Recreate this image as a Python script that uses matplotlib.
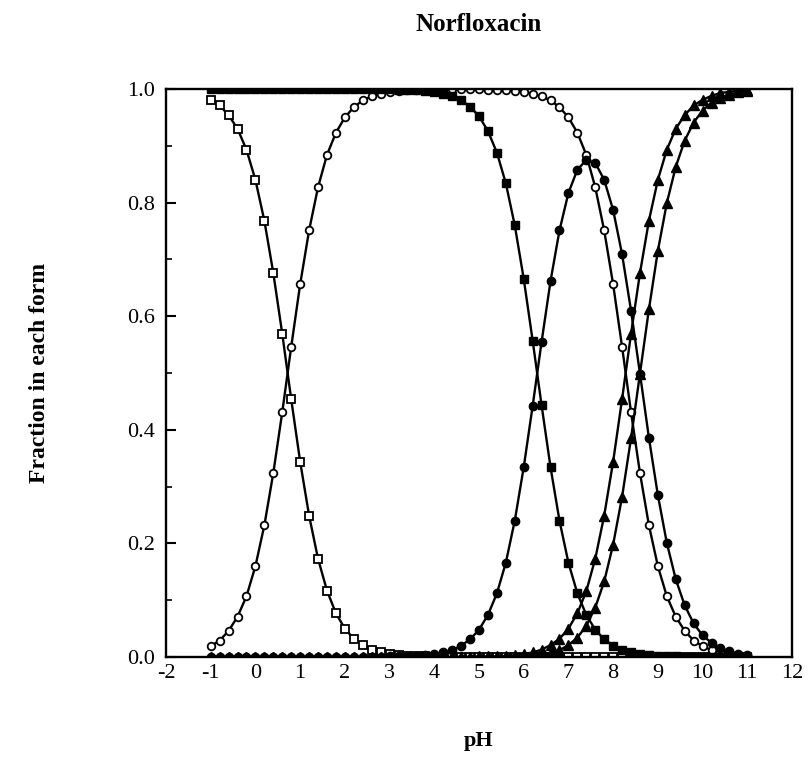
import matplotlib
matplotlib.use("Agg")
import matplotlib.pyplot as plt
from matplotlib.ticker import MultipleLocator, FixedLocator

plt.rcParams['font.family'] = ['Liberation Serif', 'DejaVu Serif']
plt.rcParams['axes.unicode_minus'] = False

title = "Norfloxacin"
xlabel = "pH"
ylabel = "Fraction in each form"
xticks = [-2, -1, 0, 1, 2, 3, 4, 5, 6, 7, 8, 9, 10, 11, 12]
yticks = [0.0, 0.2, 0.4, 0.6, 0.8, 1.0]

pH = [-1.0, -0.8, -0.6, -0.4, -0.2, 0.0, 0.2, 0.4, 0.6, 0.8,
      1.0, 1.2, 1.4, 1.6, 1.8, 2.0, 2.2, 2.4, 2.6, 2.8,
      3.0, 3.2, 3.4, 3.6, 3.8, 4.0, 4.2, 4.4, 4.6, 4.8,
      5.0, 5.2, 5.4, 5.6, 5.8, 6.0, 6.2, 6.4, 6.6, 6.8,
      7.0, 7.2, 7.4, 7.6, 7.8, 8.0, 8.2, 8.4, 8.6, 8.8,
      9.0, 9.2, 9.4, 9.6, 9.8, 10.0, 10.2, 10.4, 10.6, 10.8, 11.0]

# open squares
open_squares = [0.981, 0.971, 0.954, 0.930, 0.893, 0.840, 0.768, 0.676, 0.569, 0.454,
                0.344, 0.249, 0.173, 0.117, 0.077, 0.050, 0.032, 0.021, 0.013, 0.008,
                0.005, 0.003, 0.002, 0.001, 0.001, 0.000, 0.000, 0.000, 0.000, 0.000,
                0.000, 0.000, 0.000, 0.000, 0.000, 0.000, 0.000, 0.000, 0.000, 0.000,
                0.000, 0.000, 0.000, 0.000, 0.000, 0.000, 0.000, 0.000, 0.000, 0.000,
                0.000, 0.000, 0.000, 0.000, 0.000, 0.000, 0.000, 0.000, 0.000, 0.000, 0.000]
# open circles
open_circles = [0.019, 0.029, 0.046, 0.071, 0.107, 0.160, 0.232, 0.324, 0.431, 0.546,
                0.656, 0.751, 0.827, 0.884, 0.923, 0.950, 0.968, 0.980, 0.987, 0.992,
                0.995, 0.997, 0.998, 0.999, 0.999, 1.000, 1.000, 1.000, 1.000, 1.000,
                1.000, 0.999, 0.999, 0.998, 0.997, 0.995, 0.992, 0.987, 0.980, 0.968,
                0.950, 0.923, 0.884, 0.827, 0.751, 0.656, 0.546, 0.431, 0.324, 0.232,
                0.160, 0.107, 0.071, 0.046, 0.029, 0.019, 0.012, 0.008, 0.005, 0.003, 0.002]
# filled triangles (left curve)
triangles_a = [0.000, 0.000, 0.000, 0.000, 0.000, 0.000, 0.000, 0.000, 0.000, 0.000,
               0.000, 0.000, 0.000, 0.000, 0.000, 0.000, 0.000, 0.000, 0.000, 0.000,
               0.000, 0.000, 0.000, 0.000, 0.000, 0.000, 0.000, 0.000, 0.000, 0.000,
               0.001, 0.001, 0.001, 0.002, 0.003, 0.005, 0.008, 0.013, 0.021, 0.032,
               0.050, 0.077, 0.116, 0.173, 0.249, 0.344, 0.454, 0.569, 0.676, 0.768,
               0.840, 0.893, 0.930, 0.954, 0.971, 0.981, 0.988, 0.993, 0.995, 0.997, 0.998]
# filled squares
filled_squares = [1.000, 1.000, 1.000, 1.000, 1.000, 1.000, 1.000, 1.000, 1.000, 1.000,
                  1.000, 1.000, 1.000, 1.000, 1.000, 1.000, 1.000, 1.000, 1.000, 1.000,
                  1.000, 0.999, 0.999, 0.998, 0.997, 0.995, 0.992, 0.988, 0.980, 0.969,
                  0.952, 0.926, 0.888, 0.834, 0.760, 0.666, 0.557, 0.443, 0.334, 0.240,
                  0.166, 0.112, 0.074, 0.048, 0.031, 0.020, 0.012, 0.008, 0.005, 0.003,
                  0.002, 0.001, 0.001, 0.000, 0.000, 0.000, 0.000, 0.000, 0.000, 0.000, 0.000]
# filled circles
filled_circles = [0.000, 0.000, 0.000, 0.000, 0.000, 0.000, 0.000, 0.000, 0.000, 0.000,
                  0.000, 0.000, 0.000, 0.000, 0.000, 0.000, 0.000, 0.000, 0.000, 0.000,
                  0.001, 0.001, 0.001, 0.002, 0.003, 0.005, 0.008, 0.012, 0.020, 0.031,
                  0.048, 0.074, 0.112, 0.166, 0.240, 0.334, 0.442, 0.555, 0.662, 0.751,
                  0.817, 0.858, 0.875, 0.870, 0.840, 0.787, 0.709, 0.610, 0.499, 0.386,
                  0.285, 0.201, 0.137, 0.091, 0.059, 0.038, 0.025, 0.016, 0.010, 0.006, 0.004]
# filled triangles (right curve)
triangles_b = [0.000, 0.000, 0.000, 0.000, 0.000, 0.000, 0.000, 0.000, 0.000, 0.000,
               0.000, 0.000, 0.000, 0.000, 0.000, 0.000, 0.000, 0.000, 0.000, 0.000,
               0.000, 0.000, 0.000, 0.000, 0.000, 0.000, 0.000, 0.000, 0.000, 0.000,
               0.000, 0.000, 0.000, 0.000, 0.000, 0.001, 0.002, 0.004, 0.007, 0.012,
               0.021, 0.034, 0.055, 0.087, 0.133, 0.198, 0.282, 0.385, 0.499, 0.612,
               0.715, 0.799, 0.863, 0.909, 0.941, 0.962, 0.976, 0.984, 0.990, 0.994, 0.996]

fig = plt.figure(figsize=(8.08, 7.76), dpi=100)
ax = fig.add_axes([166/808, 1 - 657/776, 626/808, 568/776])

lw = 1.7
mew = 1.3
ax.plot(pH, open_squares, '-', color='black', lw=lw, marker='s', ms=5.5,
        mfc='white', mec='black', mew=mew)
ax.plot(pH, open_circles, '-', color='black', lw=lw, marker='o', ms=5.5,
        mfc='white', mec='black', mew=mew)
ax.plot(pH, triangles_a, '-', color='black', lw=lw, marker='^', ms=6.5,
        mfc='black', mec='black', mew=1.0)
ax.plot(pH, filled_squares, '-', color='black', lw=lw, marker='s', ms=5.5,
        mfc='black', mec='black', mew=1.0)
ax.plot(pH, filled_circles, '-', color='black', lw=lw, marker='o', ms=6.0,
        mfc='black', mec='black', mew=1.0)
ax.plot(pH, triangles_b, '-', color='black', lw=lw, marker='^', ms=6.5,
        mfc='black', mec='black', mew=1.0)

ax.set_xlim(-2, 12)
ax.set_ylim(0, 1)
ax.xaxis.set_major_locator(FixedLocator(xticks))
ax.set_xticklabels([str(t) for t in xticks])
ax.yaxis.set_major_locator(FixedLocator(yticks))
ax.set_yticklabels([f"{t:.1f}" for t in yticks])
ax.yaxis.set_minor_locator(MultipleLocator(0.1))

ax.tick_params(axis='x', which='both', length=0, pad=5, labelsize=16)
ax.tick_params(axis='y', which='major', direction='in', length=7, width=1.5,
               pad=8, labelsize=16)
ax.tick_params(axis='y', which='minor', direction='in', length=4, width=1.2)
for s in ax.spines.values():
    s.set_linewidth(1.7)

ax.set_title(title, fontsize=18, fontweight='bold', pad=42)
ax.set_xlabel(xlabel, fontsize=16, fontweight='bold')
ax.xaxis.set_label_coords(0.5, -0.13)
ax.set_ylabel(ylabel, fontsize=17, fontweight='bold')
ax.yaxis.set_label_coords(-0.185, 0.5)

fig.savefig("out.png", dpi=100)
